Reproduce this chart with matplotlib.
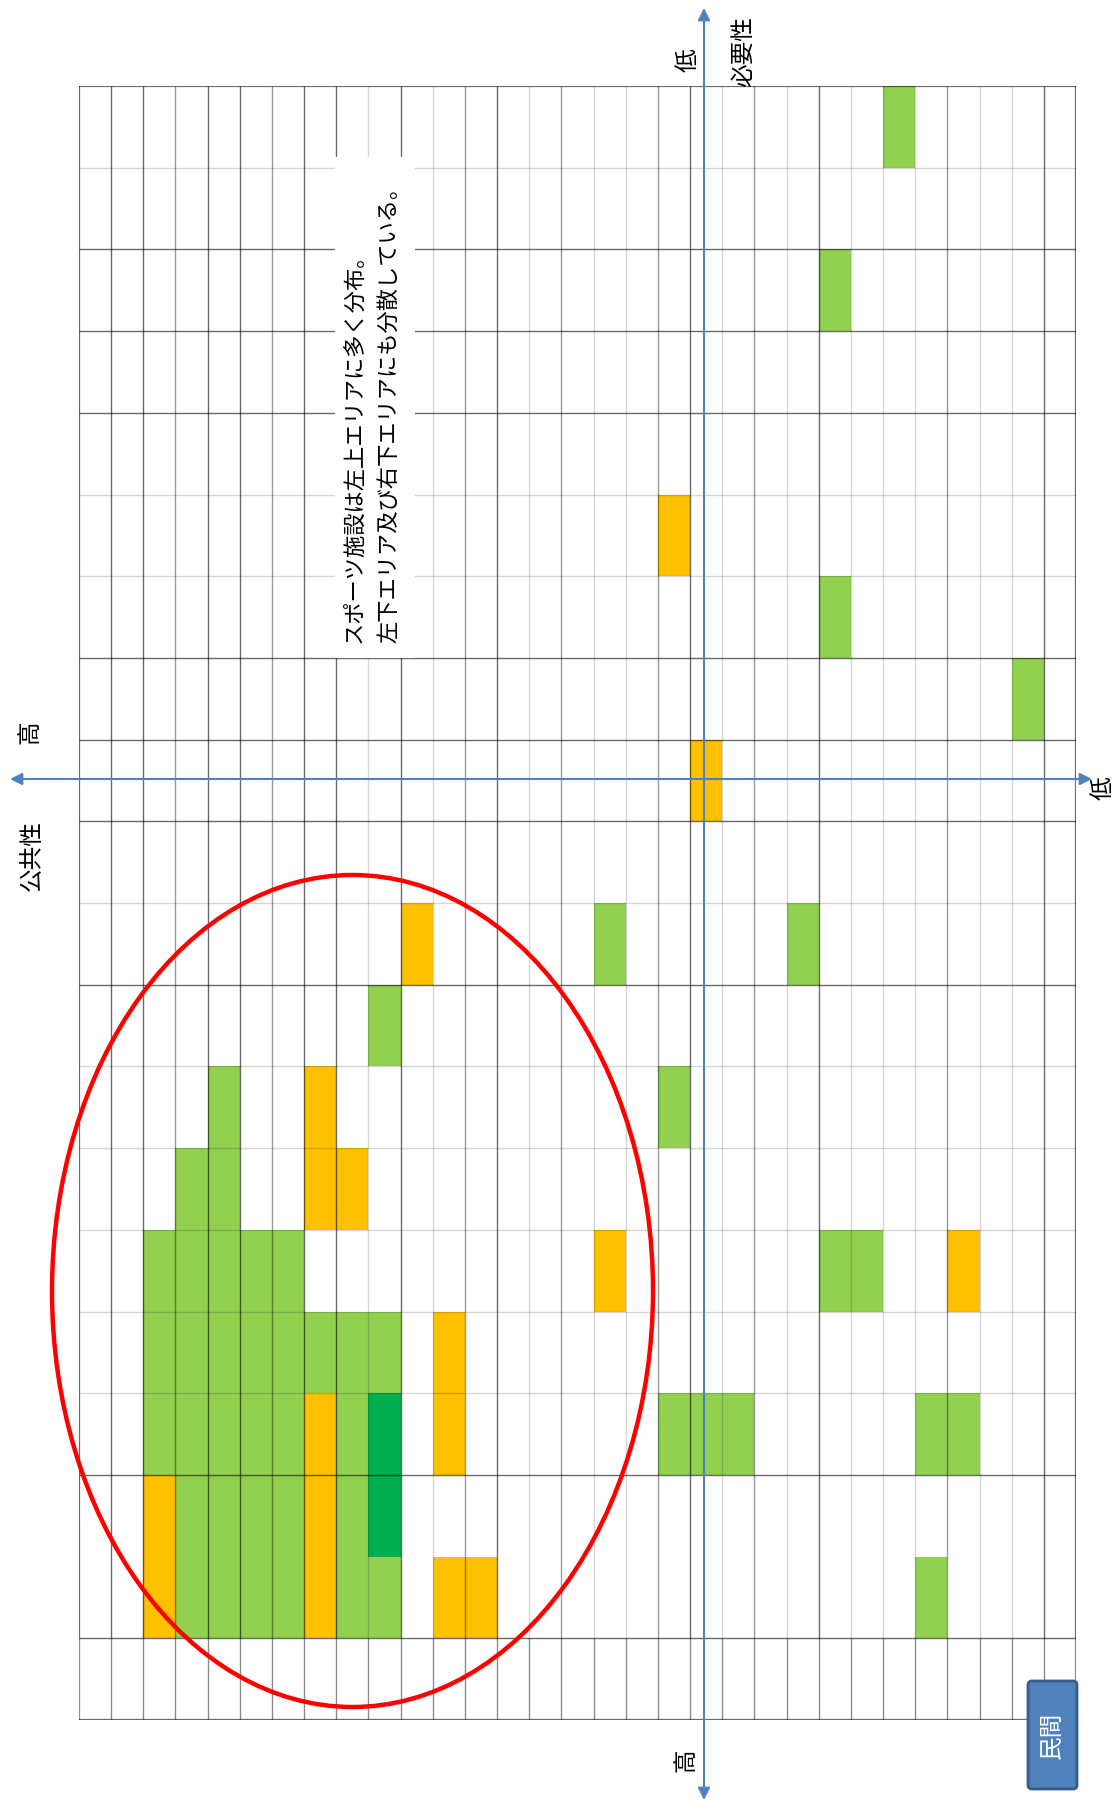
import matplotlib
matplotlib.use('Agg')
import matplotlib.pyplot as plt
from matplotlib.patches import Rectangle, Ellipse, FancyBboxPatch

plt.rcParams['font.family'] = ['Noto Sans CJK JP', 'DejaVu Sans']

# ---------------- data ----------------
N_ROWS = 20
N_COLS = 31

# (row, col) cells, row 0 = top row, col 0 = left column
green_cells = [
    (0, 25), (2, 23), (6, 23), (7, 29), (10, 16), (10, 22), (11, 9),
    (12, 4), (12, 18), (13, 3), (13, 4),
    (14, 2), (14, 3), (14, 4), (14, 5), (14, 6), (14, 23), (14, 24),
    (15, 2), (15, 3), (15, 4), (15, 5), (15, 6), (15, 7), (15, 8), (15, 9),
    (16, 2), (16, 3), (16, 4), (16, 5), (16, 6), (16, 8),
    (16, 18), (16, 19), (16, 20), (16, 26), (16, 27),
    (17, 3), (17, 4), (17, 5), (17, 6), (17, 8),
    (18, 3), (18, 4), (18, 5), (18, 6), (18, 8), (18, 9), (18, 26),
]
orange_cells = [
    (5, 18), (8, 19), (10, 10), (12, 7), (13, 7), (13, 8), (14, 16), (14, 27),
    (15, 11), (16, 7), (16, 11), (17, 2), (17, 7), (18, 2), (18, 7),
    (18, 11), (18, 12),
]
darkgreen_cells = [(16, 9), (17, 9)]

# border weights of grid lines: D dark, M medium, L light, '-' none
row_line_style = list("DLDDDLLDDDLDLLLLLD-DD")
col_line_style = list("DDDMDDMDDLDLMDLMLLMDLMLDLLLMLLDD")

annotation_lines = ["スポーツ施設は左上エリアに多く分布。",
                    "左下エリア及び右下エリアにも分散している。"]
axis_v_label = "必要性"
axis_h_label = "公共性"
low_label = "低"
high_label = "高"
box_label = "民間"

GREEN = '#92D050'
ORANGE = '#FFC000'
DGREEN = '#00B050'
BLUE = '#4F81BD'
alpha_map = {'D': 0.58, 'M': 0.4, 'L': 0.16}

# ---------------- figure ----------------
W, H = 1120, 1803
fig = plt.figure(figsize=(W / 100, H / 100), dpi=100)
fig.patch.set_facecolor('white')

gx0, gx1, gy0, gy1 = 79, 1076, 86, 1720
ax = fig.add_axes([gx0 / W, 1 - gy1 / H, (gx1 - gx0) / W, (gy1 - gy0) / H])
ax.set_xlim(0, N_COLS)
ax.set_ylim(N_ROWS, 0)
ax.axis('off')

for cells, col in ((green_cells, GREEN), (orange_cells, ORANGE), (darkgreen_cells, DGREEN)):
    rows = [r for r, c in cells]
    cols = [c for r, c in cells]
    ax.bar(cols, [1] * len(cells), bottom=rows, width=1, align='edge',
           color=col, edgecolor='none', zorder=1)

# grid lines
for k, s in enumerate(col_line_style):
    lw = 1.6 if k in (0, N_COLS) else 1.0
    ax.vlines(k, 0, N_ROWS - 1, color='black', alpha=alpha_map[s], lw=lw, zorder=2)
    ax.vlines(k, N_ROWS - 1, N_ROWS, color='black', alpha=0.45, lw=lw, zorder=2)
for k, s in enumerate(row_line_style):
    if s == '-':
        continue
    lw = 1.6 if k in (0, N_ROWS) else 1.0
    ax.hlines(k, 0, N_COLS, color='black', alpha=alpha_map[s], lw=lw, zorder=2)

# ---------------- overlay in pixel coordinates ----------------
ov = fig.add_axes([0, 0, 1, 1])
ov.set_xlim(0, W)
ov.set_ylim(H, 0)
ov.axis('off')

# white box behind annotation
ov.add_patch(Rectangle((335, 157), 80, 501, facecolor='white', edgecolor='none', zorder=1))
ov.text(354, 643, annotation_lines[0], rotation=90, ha='center', va='bottom',
        fontsize=16, color='black', zorder=3)
ov.text(389, 643, annotation_lines[1], rotation=90, ha='center', va='bottom',
        fontsize=16, color='black', zorder=3)

# axes arrows
arrow_kw = dict(arrowstyle='<|-|>', color=BLUE, lw=1.5, mutation_scale=18,
                shrinkA=0, shrinkB=0)
ov.annotate('', xy=(704, 8), xytext=(704, 1800), arrowprops=arrow_kw, zorder=4)
ov.annotate('', xy=(10, 779), xytext=(1092, 779), arrowprops=arrow_kw, zorder=4)

# red ellipse
ov.add_patch(Ellipse((352.5, 1291), 601, 832, fill=False, edgecolor='#FF0000',
                     lw=3.2, zorder=5))

# axis labels
lab_kw = dict(rotation=90, ha='center', va='center', fontsize=17, color='black')
ov.text(688, 60, low_label, **lab_kw)
ov.text(744, 52, axis_v_label, **lab_kw)
ov.text(686, 1760, high_label, **lab_kw)
ov.text(30, 732, high_label, **lab_kw)
ov.text(32, 856, axis_h_label, **lab_kw)
ov.text(1103, 788, low_label, **lab_kw)

# 民間 box
ov.add_patch(FancyBboxPatch((1028, 1681), 49, 108,
                            boxstyle='round,pad=0,rounding_size=4',
                            facecolor=BLUE, edgecolor='#385D8A', lw=2, zorder=6))
ov.text(1052.5, 1735, box_label, rotation=90, ha='center', va='center',
        fontsize=17, color='white', zorder=7)

fig.savefig('out.png', dpi=100, facecolor='white')
